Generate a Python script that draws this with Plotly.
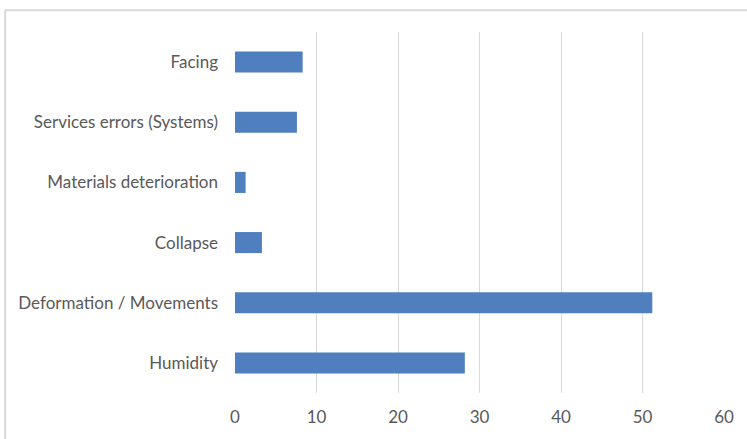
import plotly.graph_objects as go

categories = ["Humidity", "Deformation / Movements", "Collapse",
              "Materials deterioration", "Services errors (Systems)", "Facing"]
values = [28.2, 51.2, 3.3, 1.3, 7.6, 8.3]
x_ticks = [0, 10, 20, 30, 40, 50, 60]

fig = go.Figure(go.Bar(
    y=categories, x=values, orientation="h",
    marker=dict(color="#4F7FBE", line=dict(width=0)),
))

fig.update_layout(
    width=747, height=439,
    margin=dict(l=235, r=23, t=32, b=42),
    paper_bgcolor="white", plot_bgcolor="white",
    bargap=0.65,
    showlegend=False,
    font=dict(family="Lato, Open Sans, sans-serif", size=17, color="#595959"),
    shapes=[dict(type="rect", xref="paper", yref="paper",
                 x0=-0.470, x1=1.3, y0=-0.3, y1=1.06,
                 line=dict(color="#d9d9d9", width=2), fillcolor="rgba(0,0,0,0)",
                 layer="below")],
)
fig.update_xaxes(range=[0, 60], tickvals=x_ticks, showgrid=True,
                 gridcolor="#d9d9d9", gridwidth=1, zeroline=False,
                 showline=False, ticks="", ticklabelstandoff=12)
fig.update_yaxes(categoryorder="array", categoryarray=categories,
                 showgrid=False, showline=False, ticks="",
                 ticklabelstandoff=16)

fig.write_html("out.html")
